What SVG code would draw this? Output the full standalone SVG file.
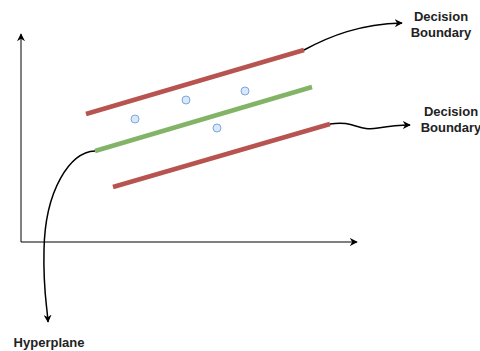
<svg xmlns="http://www.w3.org/2000/svg" width="480" height="351" viewBox="0 0 480 351">
<defs>
<style>
.axis{stroke:#000;stroke-width:1;fill:none}
.conn{stroke:#000;stroke-width:1.5;fill:none}
.red{stroke:#b85450;stroke-width:4.5;fill:none}
.green{stroke:#82b366;stroke-width:4.5;fill:none}
.pt{fill:#dae8fc;stroke:#7ea6e0;stroke-width:1}
.lbl{font-family:"Liberation Sans",Arial,sans-serif;font-weight:bold;font-size:13px;fill:#222;text-anchor:middle}
</style>
<marker id="ah" viewBox="0 0 10 10" refX="9" refY="5" markerWidth="8" markerHeight="8" markerUnits="userSpaceOnUse" orient="auto">
<path d="M0,0 L10,5 L0,10 L3,5 Z" fill="#000"/>
</marker>
</defs>
<rect width="480" height="351" fill="#fff"/>
<g id="axes">
<path class="axis" d="M21,242 L21,34" marker-end="url(#ah)"/>
<path class="axis" d="M21,242 L357,242" marker-end="url(#ah)"/>
</g>
<g id="boundary-top"><path class="red" d="M86,114 L304,50"/></g>
<g id="hyperplane-line"><path class="green" d="M95,151 L312,87"/></g>
<g id="boundary-bottom"><path class="red" d="M113,187 L330,124"/></g>
<g id="points">
<circle class="pt" cx="135" cy="119" r="4"/>
<circle class="pt" cx="186" cy="100" r="4"/>
<circle class="pt" cx="245" cy="91" r="4"/>
<circle class="pt" cx="217" cy="128" r="4"/>
</g>
<g id="connectors">
<path class="conn" d="M304,50 C330,36 360,24 402,23" marker-end="url(#ah)"/>
<path class="conn" d="M330,124 C355,120 358,132 378,128 C390,126 398,125 410,125" marker-end="url(#ah)"/>
<path class="conn" d="M95,151 C70,152 45,190 44,250 C43,290 47,305 48,322" marker-end="url(#ah)"/>
</g>
<g id="label-top"><text class="lbl" x="441" y="21">Decision</text><text class="lbl" x="441" y="37">Boundary</text></g>
<g id="label-bottom"><text class="lbl" x="451" y="116">Decision</text><text class="lbl" x="451" y="132">Boundary</text></g>
<g id="label-hyperplane"><text class="lbl" x="49" y="347">Hyperplane</text></g>
</svg>
